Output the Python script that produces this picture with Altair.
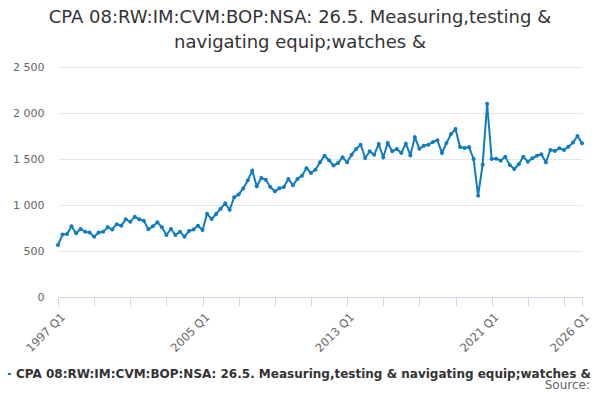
import altair as alt
import pandas as pd

# series name and chart title (title is split over two lines like the original)
series_name = "CPA 08:RW:IM:CVM:BOP:NSA: 26.5. Measuring,testing & navigating equip;watches &"
title_lines = ["CPA 08:RW:IM:CVM:BOP:NSA: 26.5. Measuring,testing &",
               "navigating equip;watches &"]

# quarters 1997 Q1 .. 2026 Q1
quarters = [f"{y} Q{q}" for y in range(1997, 2027) for q in range(1, 5)][:117]

# values, one row per 2 years (8 quarters)
values = [
    565, 678, 685, 770, 692, 739, 710, 700,
    656, 702, 708, 757, 735, 792, 775, 844,
    817, 872, 844, 828, 737, 768, 812, 757,
    674, 739, 674, 710, 656, 717, 735, 775,
    728, 904, 848, 902, 960, 1018, 948, 1085,
    1115, 1180, 1266, 1373, 1203, 1293, 1275, 1196,
    1149, 1181, 1196, 1283, 1214, 1283, 1319, 1399,
    1348, 1384, 1464, 1536, 1486, 1428, 1457, 1518,
    1464, 1547, 1609, 1656, 1511, 1583, 1547, 1663,
    1518, 1674, 1583, 1609, 1565, 1667, 1540, 1736,
    1612, 1645, 1656, 1685, 1703, 1565, 1674, 1772,
    1826, 1630, 1620, 1630, 1500, 1101, 1438, 2101,
    1500, 1504, 1482, 1525, 1435, 1391, 1442, 1525,
    1471, 1507, 1536, 1551, 1464, 1598, 1587, 1616,
    1598, 1634, 1678, 1750, 1670,
]

# axis labels
tick_labels = ["1997 Q1", "2005 Q1", "2013 Q1", "2021 Q1", "2026 Q1"]
y_ticks = [0, 500, 1000, 1500, 2000, 2500]

tick_pos = [quarters.index(t) for t in tick_labels]
x_ticks = list(range(0, len(quarters) - 1, 8)) + [len(quarters) - 1]

label_expr = "".join(f"datum.value == {p} ? '{t}' : " for p, t in zip(tick_pos, tick_labels)) + "''"

df = pd.DataFrame({
    "idx": list(range(len(values))),
    "quarter": quarters,
    "value": values,
    "series": series_name,
})

FONT = "DejaVu Sans"
BLUE = "#0f7cc1"

line = alt.Chart(df).mark_line(
    strokeWidth=2,
    point=alt.OverlayMarkDef(filled=True, size=16),
).encode(
    x=alt.X("idx:Q",
            scale=alt.Scale(domain=[0, len(quarters) - 1], nice=False, zero=False),
            axis=alt.Axis(values=x_ticks, labelExpr=label_expr, labelAngle=315,
                          labelAlign="right", labelBaseline="top", labelFlush=False,
                          labelOverlap=False, grid=False, domainColor="#ccd6eb",
                          tickColor="#ccd6eb", tickSize=9, labelColor="#666666",
                          labelFontSize=11.5, labelPadding=5, labelOffset=1,
                          title=None)),
    y=alt.Y("value:Q",
            scale=alt.Scale(domain=[0, 2500], nice=False),
            axis=alt.Axis(values=y_ticks,
                          labelExpr="replace(format(datum.value, ','), ',', ' ')",
                          domain=False, ticks=False, gridColor="#e6e6e6",
                          labelColor="#666666", labelFontSize=11, labelPadding=14,
                          title=None)),
    color=alt.Color("series:N", title=None,
                    scale=alt.Scale(range=[BLUE]),
                    legend=alt.Legend(orient="none", legendX=-62, legendY=299,
                                      symbolType="stroke", symbolSize=196,
                                      symbolStrokeWidth=2, labelFontSize=12,
                                      labelFontWeight="bold", labelColor="#333333",
                                      labelLimit=900, labelOffset=4)),
    tooltip=["quarter", "value"],
)

source = alt.Chart(pd.DataFrame({"t": ["Source:"]})).mark_text(
    align="right", baseline="alphabetic", fontSize=12, color="#666666", font=FONT
).encode(x=alt.value(532), y=alt.value(322), text="t:N")

chart = alt.layer(line, source).properties(
    width=524,
    height=230,
    autosize="none",
    padding={"left": 50, "top": 59, "right": 10, "bottom": 95},
    title=alt.TitleParams(text=title_lines, fontSize=18, fontWeight="normal",
                          color="#333333", font=FONT, anchor="middle", dx=-20,
                          offset=9, lineHeight=25),
).configure(font=FONT).configure_view(stroke=None)

chart.save("out.html", embed_options={"renderer": "svg", "actions": False})
